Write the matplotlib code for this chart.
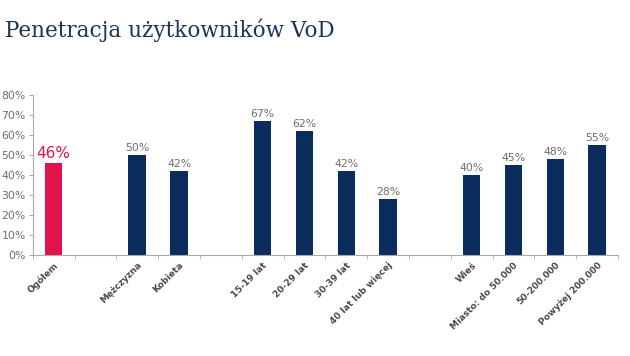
import matplotlib
matplotlib.use('Agg')
import matplotlib.pyplot as plt
import numpy as np

# DATA: GROUPS OF CATEGORIES, ONE EMPTY SLOT BETWEEN GROUPS
groups = [
    ['Ogółem'],
    ['Mężczyzna', 'Kobieta'],
    ['15-19 lat', '20-29 lat', '30-39 lat', '40 lat lub więcej'],
    ['Wieś', 'Miasto: do 50.000', '50-200.000', 'Powyżej 200.000'],
]
group_values = [
    [46],
    [50, 42],
    [67, 62, 42, 28],
    [40, 45, 48, 55],
]

navy = '#0b2d5e'
red = '#e0134c'
gray = '#6d6d6d'

# BUILD SLOT POSITIONS
labels, values, xs = [], [], []
pos = 0
for g, v in zip(groups, group_values):
    for lab, val in zip(g, v):
        labels.append(lab)
        values.append(val)
        xs.append(pos)
        pos += 1
    pos += 1
n_slots = pos - 1

fig = plt.figure(figsize=(6.3, 3.56), dpi=100)
fig.text(0.008, 0.915, 'Penetracja użytkowników VoD', fontsize=15.5,
         family='DejaVu Serif', color='#1c3557', va='center')

ax = fig.add_axes([0.052, 0.2837, 0.929, 0.449])
colors = [red] + [navy] * (len(values) - 1)
ax.bar(xs, values, width=0.42, color=colors)

for i, (x, v) in enumerate(zip(xs, values)):
    if i == 0:
        ax.text(x, v + 1.2, f'{v}%', ha='center', va='bottom', fontsize=11, color=red)
    else:
        ax.text(x, v + 1.2, f'{v}%', ha='center', va='bottom', fontsize=7.8, color=gray)

ax.set_xlim(-0.5, n_slots - 0.5)
ax.set_ylim(0, 80)
ax.set_yticks(np.arange(0, 81, 10))
ax.set_yticklabels([f'{t}%' for t in range(0, 81, 10)], fontsize=7.8, color=gray)

ax.set_xticks(xs)
ax.set_xticklabels(labels, rotation=45, ha='right', rotation_mode='anchor',
                   fontsize=6.5, fontweight='bold', color='#4a4a4a')
ax.tick_params(axis='x', which='major', length=0, pad=4)
ax.set_xticks(np.arange(-0.5, n_slots, 1), minor=True)
ax.tick_params(axis='x', which='minor', length=3, color='#aaaaaa')
ax.tick_params(axis='y', length=3, color='#aaaaaa', pad=2)

for s in ['top', 'right']:
    ax.spines[s].set_visible(False)
for s in ['left', 'bottom']:
    ax.spines[s].set_color('#aaaaaa')
    ax.spines[s].set_linewidth(0.8)

plt.savefig('out.png', dpi=100)
